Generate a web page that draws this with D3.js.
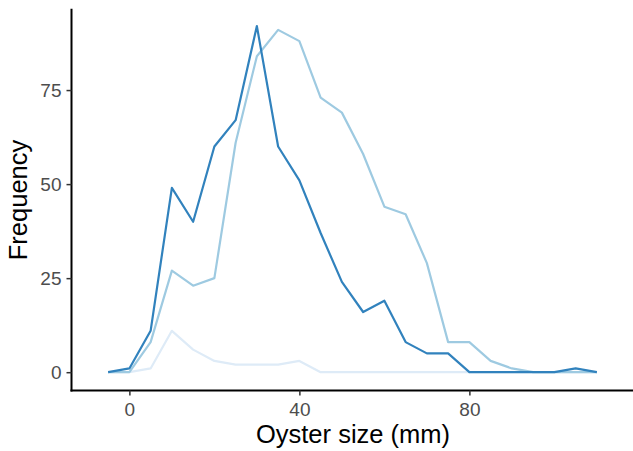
<!DOCTYPE html>
<html>
<head>
<meta charset="utf-8">
<script src="https://cdn.jsdelivr.net/npm/d3@7"></script>
<style>
  body { margin: 0; background: #fff; }
  svg { display: block; font-family: "Liberation Sans", Arial, sans-serif; }
</style>
</head>
<body>
<div id="chart"></div>
<script>
// bin midpoints (mm)
var sizes = [-5, 0, 5, 10, 15, 20, 25, 30, 35, 40, 45, 50, 55, 60, 65, 70, 75, 80, 85, 90, 95, 100, 105, 110];

// frequency per bin, one array per group
var groupLight = [0, 0, 1, 11, 6, 3, 2, 2, 2, 3, 0, 0, 0, 0, 0, 0, 0, 0, 0, 0, 0, 0, 0, 0];
var groupMid = [0, 0, 8, 27, 23, 25, 61, 84, 91, 88, 73, 69, 58, 44, 42, 29, 8, 8, 3, 1, 0, 0, 0, 0];
var groupDark = [0, 1, 11, 49, 40, 60, 67, 92, 60, 51, 37, 24, 16, 19, 8, 5, 5, 0, 0, 0, 0, 0, 1, 0];

var series = [
    { values: groupLight, color: "#deebf7" },
    { values: groupMid, color: "#9ecae1" },
    { values: groupDark, color: "#3182bd" }
];

var xTicks = [0, 40, 80];
var yTicks = [0, 25, 50, 75];

var width = 633, height = 451;
var pLeft = 72, pRight = 633, pTop = 8.8, pBottom = 389.5;

var x = d3.scaleLinear().domain([-13.5, 118.5]).range([pLeft, pRight]);
var y = d3.scaleLinear().domain([-4.6, 96.6]).range([pBottom, pTop]);

var svg = d3.select('#chart').append('svg')
    .attr('width', width)
    .attr('height', height);

var line = d3.line()
    .x(function(d) { return x(d.size); })
    .y(function(d) { return y(d.count); });

series.forEach(function(s) {
    var pts = sizes.map(function(v, i) { return { size: v, count: s.values[i] }; });
    svg.append('path')
        .attr('d', line(pts))
        .attr('fill', 'none')
        .attr('stroke', s.color)
        .attr('stroke-width', 2.2)
        .attr('stroke-linejoin', 'round');
});

var xAxis = d3.axisBottom(x).tickValues(xTicks).tickSize(5).tickSizeOuter(0);
var yAxis = d3.axisLeft(y).tickValues(yTicks).tickSize(5).tickSizeOuter(0);

var gx = svg.append('g').attr('class', 'x axis')
    .attr('transform', 'translate(0,' + (pBottom + 1) + ')')
    .call(xAxis);
var gy = svg.append('g').attr('class', 'y axis')
    .attr('transform', 'translate(' + (pLeft - 0.5) + ',0)')
    .call(yAxis);

gx.select('.domain').attr('d', 'M' + (pLeft - 1.5) + ',0H' + pRight);
gy.select('.domain').attr('d', 'M0,' + pTop + 'V' + (pBottom + 2));

svg.selectAll('.axis').attr('font-family', null).attr('font-size', null);
svg.selectAll('.axis .domain').attr('stroke', '#000').attr('stroke-width', 2);
svg.selectAll('.axis .tick line').attr('stroke', '#333').attr('stroke-width', 1.5);
svg.selectAll('.axis .tick text')
    .attr('fill', '#4d4d4d')
    .style('font-size', '19px');
gx.selectAll('.tick text').attr('y', 25.5).attr('dy', 0);
gy.selectAll('.tick text').attr('x', -10).attr('dy', '0.35em');

svg.append('text')
    .attr('x', 353)
    .attr('y', 443)
    .attr('text-anchor', 'middle')
    .style('font-size', '25.5px')
    .text('Oyster size (mm)');

svg.append('text')
    .attr('transform', 'translate(27,200) rotate(-90)')
    .attr('text-anchor', 'middle')
    .style('font-size', '25.5px')
    .text('Frequency');
</script>
</body>
</html>
